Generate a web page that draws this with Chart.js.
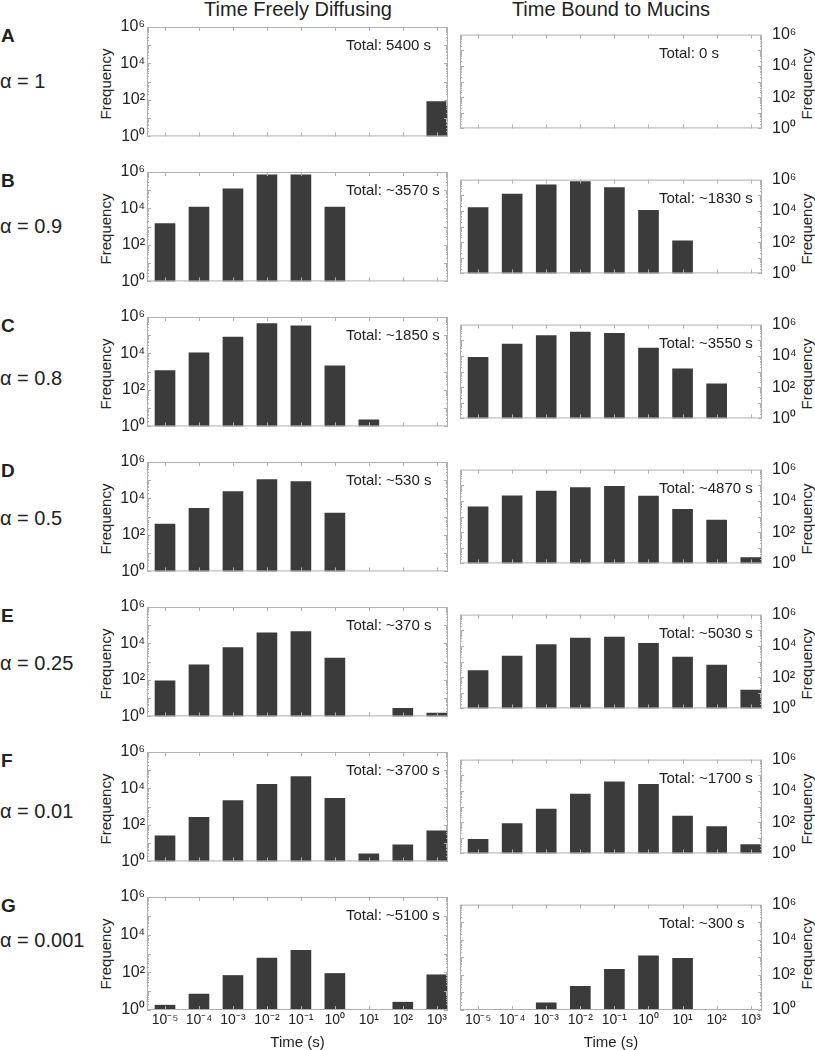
<!DOCTYPE html>
<html>
<head>
<meta charset="utf-8">
<script src="https://cdn.jsdelivr.net/npm/chart.js@4.4.0/dist/chart.umd.min.js"></script>
<style>
  body { margin: 0; background: #fff; font-family: "Liberation Sans", Arial, sans-serif; color: #222; }
  #page { position: relative; width: 815px; height: 1050px; overflow: hidden; }
  canvas { position: absolute; }
  .lbl { position: absolute; white-space: nowrap; }
  .freq { position: absolute; white-space: nowrap; font-size: 15px; line-height: 15px;
          transform: translate(-50%, -50%) rotate(-90deg); }
</style>
</head>
<body>
<div id="page"></div>
<script>
// categories / ticks
const timeLabels = ["10⁻⁵", "10⁻⁴", "10⁻³", "10⁻²", "10⁻¹", "10⁰", "10¹", "10²", "10³"];
const yTickValues = [1, 1e2, 1e4, 1e6];
const yTickLabels = ["10⁰", "10²", "10⁴", "10⁶"];

const rowLetters = ["A", "B", "C", "D", "E", "F", "G"];
const alphaLabels = ["α = 1", "α = 0.9", "α = 0.8", "α = 0.5", "α = 0.25", "α = 0.01", "α = 0.001"];
const freeTotals = ["Total: 5400 s", "Total: ~3570 s", "Total: ~1850 s", "Total: ~530 s", "Total: ~370 s", "Total: ~3700 s", "Total: ~5100 s"];
const boundTotals = ["Total: 0 s", "Total: ~1830 s", "Total: ~3550 s", "Total: ~4870 s", "Total: ~5030 s", "Total: ~1700 s", "Total: ~300 s"];

// frequencies per bin (null = empty bin)
const freeA = [null, null, null, null, null, null, null, null, 80];
const boundA = [null, null, null, null, null, null, null, null, null];
const freeB = [1500, 12000, 120000, 700000, 700000, 12000, null, null, null];
const boundB = [16000, 120000, 460000, 750000, 310000, 11000, 120, null, null];
const freeC = [1150, 11000, 80000, 430000, 330000, 2100, 2.3, null, null];
const boundC = [8000, 57000, 200000, 330000, 280000, 31000, 1500, 165, null];
const freeD = [390, 2900, 24000, 110000, 85000, 1600, null, null, null];
const boundD = [4200, 21000, 43000, 72000, 85000, 20000, 2900, 600, 2.4];
const freeE = [90, 680, 6000, 38000, 45000, 1600, null, 2.8, 1.5];
const boundE = [260, 2200, 12000, 32000, 37000, 14500, 1900, 600, 15];
const freeF = [25, 260, 2200, 17000, 45000, 2900, 2.6, 8, 48];
const boundF = [8, 80, 680, 6200, 38000, 26000, 240, 52, 3.6];
const freeG = [1.8, 7, 68, 580, 1480, 87, null, 2.6, 74];
const boundG = [null, null, 2.6, 22, 210, 1200, 870, null, null];

const freeRows = [freeA, freeB, freeC, freeD, freeE, freeF, freeG];
const boundRows = [boundA, boundB, boundC, boundD, boundE, boundF, boundG];

const ROW_TOP = 27, ROW_STEP = 145, PLOT_H = 113;
const alphaBaselines = [88, 233, 385, 525, 670, 818, 947];
const FONT = '"Liberation Sans", Arial, sans-serif';

const page = document.getElementById("page");

function addLabel(text, css, cls) {
  const d = document.createElement("div");
  d.className = cls || "lbl";
  d.textContent = text;
  d.style.cssText += css;
  page.appendChild(d);
}

// frame with inward ticks + "Total" text
const framePlugin = {
  id: "frame",
  afterDatasetsDraw(chart, args, opts) {
    const { ctx, chartArea: a, scales: { x, y } } = chart;
    ctx.save();
    ctx.strokeStyle = "#b0b0b0";
    ctx.lineWidth = 1;
    ctx.strokeRect(a.left + 0.5, a.top + 0.5, a.right - a.left - 1, a.bottom - a.top - 1);
    ctx.beginPath();
    for (let i = 1; i <= timeLabels.length; i++) {
      const px = Math.round(x.getPixelForValue(i)) + 0.5;
      ctx.moveTo(px, a.bottom); ctx.lineTo(px, a.bottom - 4);
      ctx.moveTo(px, a.top); ctx.lineTo(px, a.top + 4);
    }
    for (let d = 0; d < 6; d++) {
      for (let m = 1; m <= 9; m++) {
        const py = Math.round(y.getPixelForValue(m * Math.pow(10, d))) + 0.5;
        const len = m === 1 ? 4 : 2;
        ctx.moveTo(a.left, py); ctx.lineTo(a.left + len, py);
        ctx.moveTo(a.right, py); ctx.lineTo(a.right - len, py);
      }
    }
    ctx.stroke();
    ctx.fillStyle = "#222";
    ctx.font = "15px " + FONT;
    ctx.textBaseline = "middle";
    ctx.fillText(opts.total, a.left + 199, a.top + 19);
    ctx.restore();
  }
};

function makePanel(values, total, row, side) {
  const isLast = row === rowLetters.length - 1;
  const isLeft = side === "left";
  const top = ROW_TOP + row * ROW_STEP;
  const xAxisH = isLast ? 42 : 0;
  const padBottom = isLast ? 2 : 8;
  const canvas = document.createElement("canvas");
  const w = isLeft ? 345 : 347;
  const h = 12 + PLOT_H + xAxisH + padBottom;
  canvas.width = w; canvas.height = h;
  canvas.style.left = (isLeft ? 110 : 455) + "px";
  canvas.style.top = (top - 12) + "px";
  canvas.style.width = w + "px"; canvas.style.height = h + "px";
  page.appendChild(canvas);

  new Chart(canvas, {
    type: "bar",
    data: {
      datasets: [{
        data: values.map((v, i) => ({ x: i + 1, y: v })),
        backgroundColor: "#3b3b3b",
        borderWidth: 0,
        barThickness: 20
      }]
    },
    options: {
      responsive: false,
      animation: false,
      events: [],
      layout: { padding: { left: isLeft ? 0 : 5, right: isLeft ? 7 : 0, top: 12, bottom: padBottom } },
      plugins: { legend: { display: false }, tooltip: { enabled: false }, frame: { total: total } },
      scales: {
        x: {
          type: "linear",
          offset: false,
          min: 0.47,
          max: 9.33,
          display: isLast,
          grid: { display: false, drawTicks: false, offset: false },
          border: { display: false },
          afterBuildTicks: (s) => { s.ticks = timeLabels.map((_, i) => ({ value: i + 1 })); },
          afterFit: (s) => { s.height = xAxisH; },
          ticks: {
            callback: (v, i) => timeLabels[i],
            autoSkip: false, maxRotation: 0, padding: 2,
            color: "#222", font: { family: FONT, size: 14 }
          },
          title: {
            display: true, text: "Time (s)", color: "#222",
            font: { family: FONT, size: 15 }, padding: { top: 0, bottom: 0 }
          }
        },
        y: {
          type: "logarithmic",
          position: isLeft ? "left" : "right",
          min: 1,
          max: 1e6,
          grid: { display: false, drawTicks: false },
          border: { display: false },
          afterBuildTicks: (s) => { s.ticks = yTickValues.map((v) => ({ value: v })); },
          afterFit: (s) => { s.width = isLeft ? 37 : 40; },
          ticks: {
            callback: (v, i) => yTickLabels[i],
            padding: isLeft ? 2 : 10,
            color: "#222", font: { family: FONT, size: 16 }
          }
        }
      }
    },
    plugins: [framePlugin]
  });
}

addLabel("Time Freely Diffusing", "left:298px; top:-1px; font-size:20px; line-height:20px; transform:translateX(-50%);");
addLabel("Time Bound to Mucins", "left:611px; top:-1px; font-size:20px; line-height:20px; transform:translateX(-50%);");

rowLetters.forEach((letter, r) => {
  const top = ROW_TOP + r * ROW_STEP;
  addLabel(letter, `left:1px; top:${top - 1}px; font-size:19px; line-height:19px; font-weight:bold;`);
  addLabel(alphaLabels[r], `left:0px; top:${alphaBaselines[r] - 17}px; font-size:20px; line-height:20px;`);
  addLabel("Frequency", `left:105px; top:${top + PLOT_H / 2}px;`, "freq");
  addLabel("Frequency", `left:806px; top:${top + PLOT_H / 2}px;`, "freq");
  makePanel(freeRows[r], freeTotals[r], r, "left");
  makePanel(boundRows[r], boundTotals[r], r, "right");
});
</script>
</body>
</html>
